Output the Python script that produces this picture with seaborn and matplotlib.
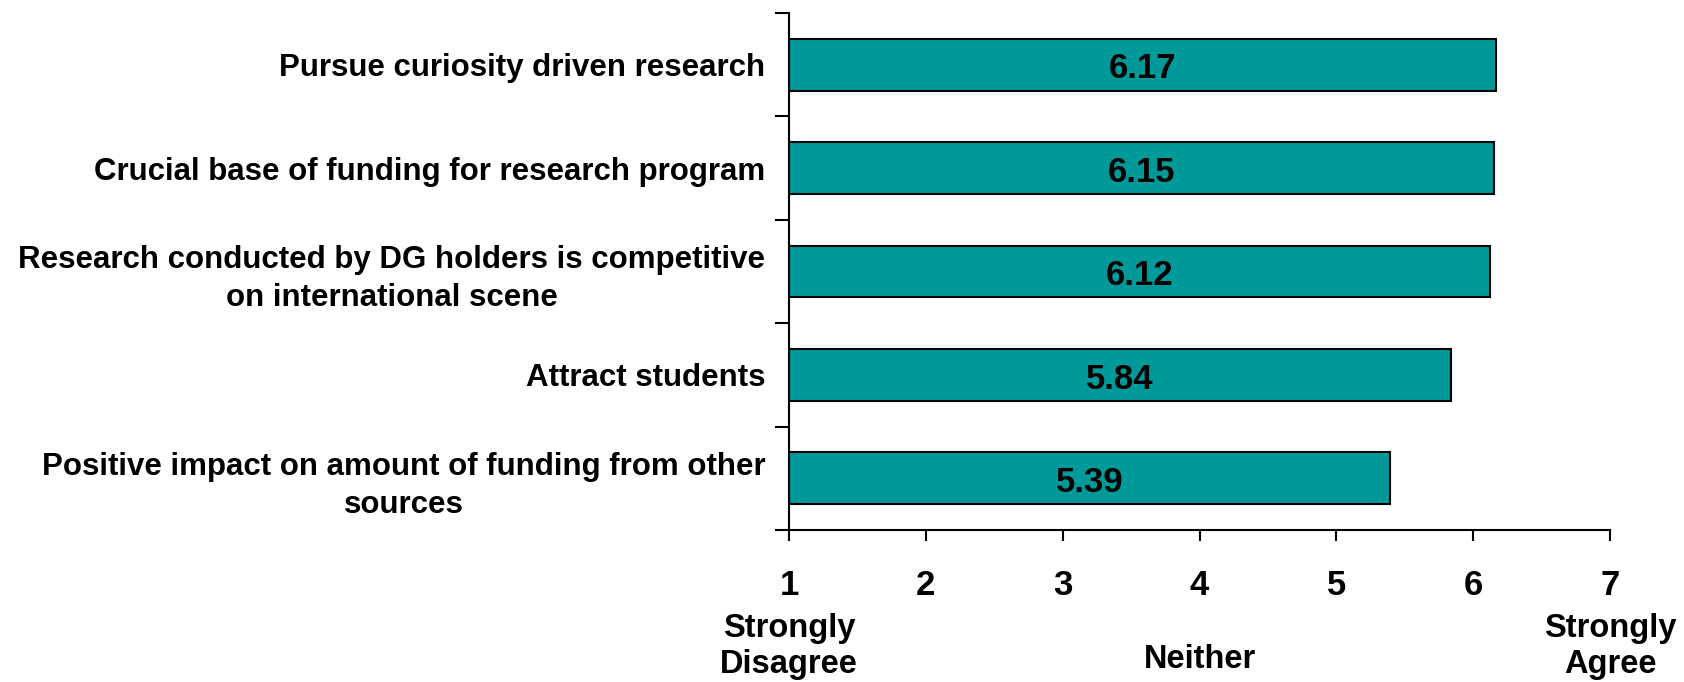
import matplotlib
matplotlib.use("Agg")
import matplotlib.pyplot as plt
import matplotlib.transforms as mtransforms
import seaborn as sns
import pandas as pd

# data
statements = [
    "Pursue curiosity driven research",
    "Crucial base of funding for research program",
    "Research conducted by DG holders is competitive\non international scene",
    "Attract students",
    "Positive impact on amount of funding from other\nsources",
]
scores = [6.17, 6.15, 6.12, 5.84, 5.39]
scale_ticks = [1, 2, 3, 4, 5, 6, 7]
anchor_labels = {1: "Strongly\nDisagree", 4: "Neither", 7: "Strongly\nAgree"}

df = pd.DataFrame({"statement": statements, "score": scores})

sns.set_theme(style="ticks")
plt.rcParams["font.family"] = ["Liberation Sans", "DejaVu Sans"]
plt.rcParams["font.weight"] = "bold"
plt.rcParams["text.color"] = "black"
plt.rcParams["xtick.color"] = "black"
plt.rcParams["ytick.color"] = "black"

fig = plt.figure(figsize=(16.84, 6.82), dpi=100)
ax = fig.add_axes([789 / 1684, 1 - 530 / 682, (1610 - 789) / 1684, (530 - 13) / 682])

sns.barplot(data=df, x="score", y="statement", orient="h", color="#009999",
            saturation=1, width=0.5, edgecolor="black", linewidth=1.5, ax=ax)

ax.set_xlim(1, 7)
ax.set_ylim(len(statements) - 0.5, -0.5)
ax.set_xlabel("")
ax.set_ylabel("")

# y ticks at category boundaries, labels at centers
ax.set_yticks([i - 0.5 for i in range(len(statements) + 1)])
ax.set_yticklabels([])
ax.set_yticks(range(len(statements)), minor=True)
ax.set_yticklabels(statements, minor=True, fontsize=22.5, fontweight="bold",
                   multialignment="center", linespacing=1.35)
ax.tick_params(axis="y", which="minor", length=0, pad=17, labelcolor="black")
ax.tick_params(axis="y", which="major", length=10, width=1.5, color="black")

ax.set_xticks(scale_ticks)
ax.set_xticklabels([str(t) for t in scale_ticks], fontsize=25, fontweight="bold")
ax.tick_params(axis="x", length=8, width=1.5, color="black", pad=20, labelcolor="black")

for s in ["top", "right"]:
    ax.spines[s].set_visible(False)
for s in ["left", "bottom"]:
    ax.spines[s].set_color("black")
    ax.spines[s].set_linewidth(1.5)

for i, v in enumerate(scores):
    ax.text((1 + v) / 2, i + 0.04, f"{v:.2f}", ha="center", va="center",
            fontsize=25, fontweight="bold", color="black")

trans = mtransforms.blended_transform_factory(ax.transData, ax.transAxes)
for x, lab in anchor_labels.items():
    y = -0.225 if "\n" in lab else -0.25
    ax.text(x, y, lab, transform=trans, ha="center", va="center",
            fontsize=23.5, fontweight="bold", linespacing=1.2, color="black")

fig.savefig("out.png", dpi=100)
